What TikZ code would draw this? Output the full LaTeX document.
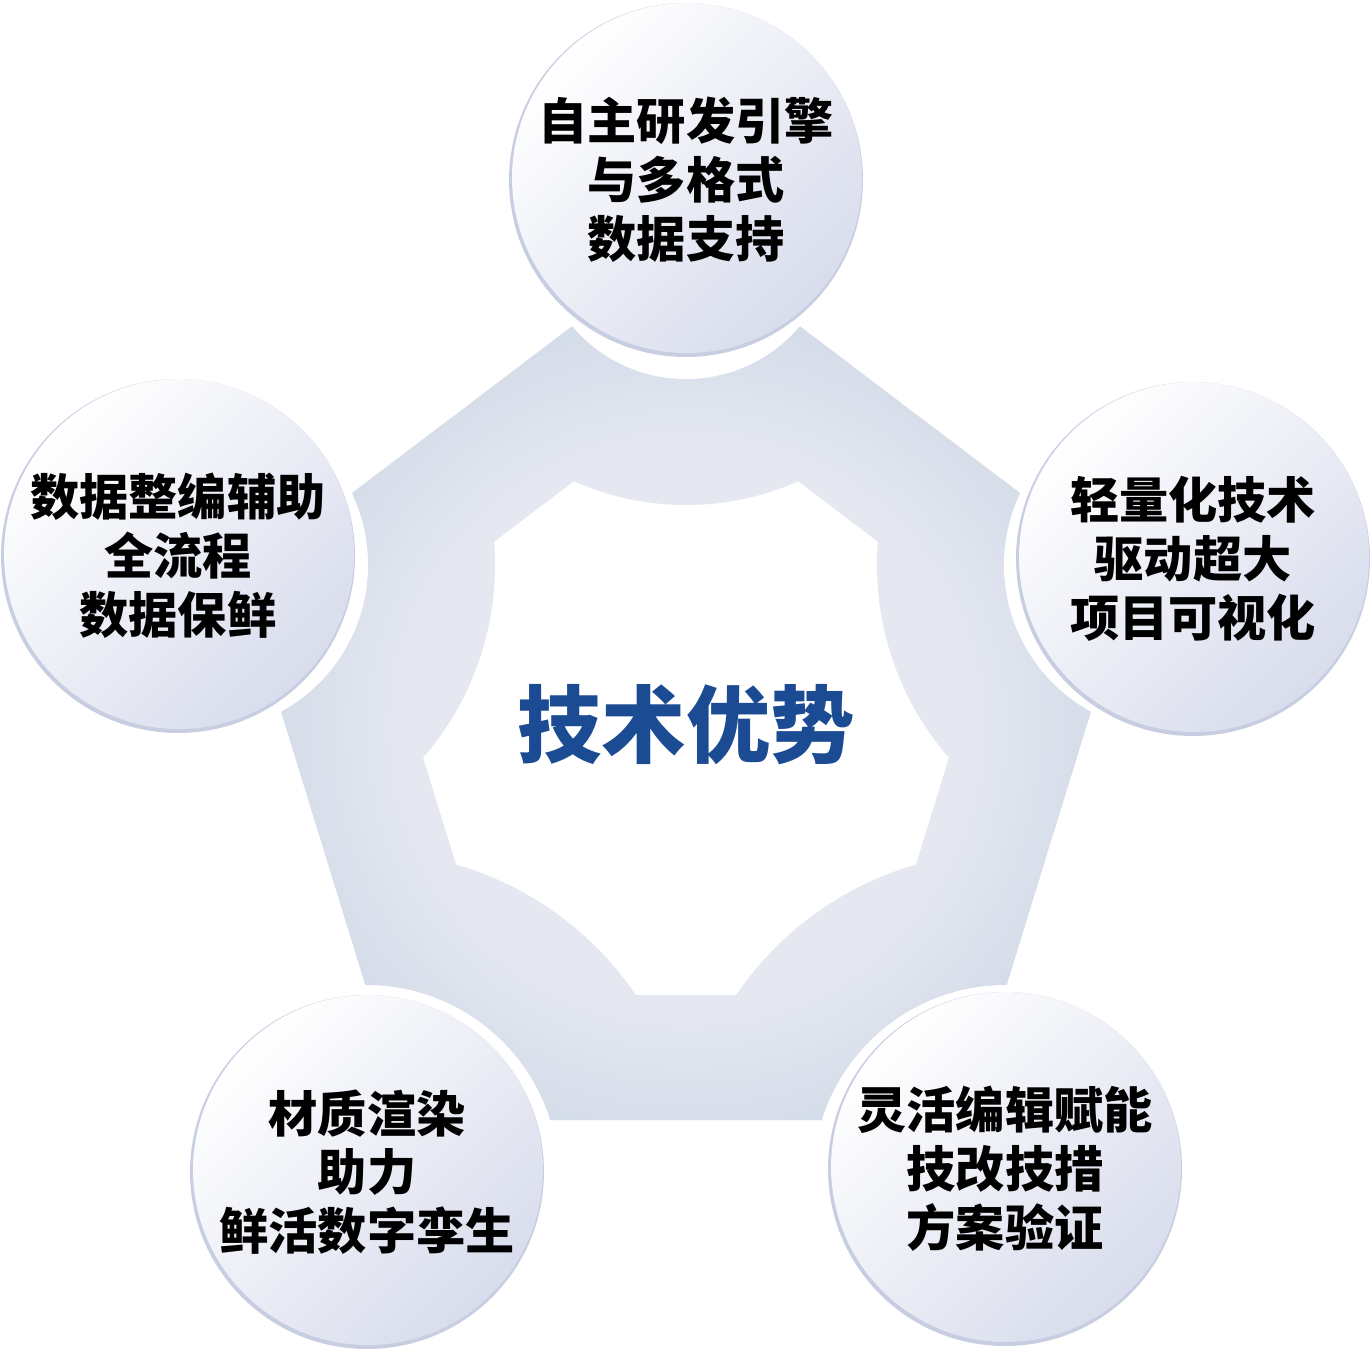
\documentclass[tikz,border=0pt]{standalone}
\usepackage{fontspec}
\newfontfamily\cjk{Noto Sans CJK SC}
\definecolor{ringin}{HTML}{E8EAF3}
\definecolor{ringedge}{HTML}{E5E8F1}
\definecolor{ringmid}{HTML}{D7DEEA}
\definecolor{ringout}{HTML}{CED9E8}
\definecolor{rimcol}{HTML}{C8CEE2}
\definecolor{bubblemid}{HTML}{F2F3F9}
\definecolor{bubblelo}{HTML}{D8DCEC}
\definecolor{titleblue}{HTML}{1B4B92}
% 25bp of the shading = half the width of the shaded path
\pgfdeclareradialshading{ringglow}{\pgfpoint{0bp}{0bp}}{%
  color(0bp)=(ringin); color(14bp)=(ringedge); color(19.5bp)=(ringmid); color(25bp)=(ringout); color(50bp)=(ringout)}

\begin{document}
\begin{tikzpicture}[x=0.02cm,y=-0.02cm]
        \tikzstyle{bubble} = [circle,minimum size=7.08cm,inner sep=0pt,align=center,fill=rimcol,
            font=\cjk\bfseries\fontsize{28pt}{33.5pt}\selectfont,
            path picture={\shade[top color=white,middle color=bubblemid,bottom color=bubblelo,shading angle=45]
            ([xshift=0.02cm,yshift=0.04cm]path picture bounding box.center) circle (3.5cm);}]
        \tikzstyle{title} = [font=\cjk\bfseries\fontsize{48pt}{56pt}\selectfont,text=titleblue]
        \tikzstyle{ringfill} = [shading=ringglow]
        \useasboundingbox (0,0) rectangle (1372,1350);
        % Outer pentagon
        \coordinate (o1) at (686,240);
        \coordinate (o2) at (1132,578);
        \coordinate (o3) at (965,1120);
        \coordinate (o4) at (407,1120);
        \coordinate (o5) at (240,578);
        % Inner pentagon
        \coordinate (i1) at (686,396.5);
        \coordinate (i2) at (989.3,626.3);
        \coordinate (i3) at (875.7,994.9);
        \coordinate (i4) at (496.3,994.9);
        \coordinate (i5) at (382.7,626.3);
        % Ring
        \begin{scope}
            \clip (o1) -- (o2) -- (o3) -- (o4) -- (o5) -- cycle;
            \shade[ringfill] (686,729) circle (500);
        \end{scope}
        \fill[white] (i1) -- (i2) -- (i3) -- (i4) -- (i5) -- cycle;
        \begin{scope}
            \clip (o1) -- (o2) -- (o3) -- (o4) -- (o5) -- cycle;
            \clip (686,230) circle (275) (1171,565) circle (294) (1006,1178) circle (326)
                  (366,1178) circle (326) (201,565) circle (294);
            \shade[ringfill] (686,729) circle (500);
        \end{scope}
        % Gaps
        \fill[white] (686,230) circle (149) (1171,565) circle (167) (1006,1178) circle (193)
                     (366,1178) circle (193) (201,565) circle (167);
        % Bubbles
        \node[bubble] (adv_1) at (686,180) {自主研发引擎\\与多格式\\数据支持};
        \node[bubble] (adv_2) at (1193,559) {轻量化技术\\驱动超大\\项目可视化};
        \node[bubble] (adv_3) at (1005,1169) {灵活编辑赋能\\技改技措\\方案验证};
        \node[bubble] (adv_4) at (367,1172) {材质渲染\\助力\\鲜活数字孪生};
        \node[bubble] (adv_5) at (178,556) {数据整编辅助\\全流程\\数据保鲜};
        % Center
        \node[title] (core) at (686,725) {技术优势};
\end{tikzpicture}
\end{document}
